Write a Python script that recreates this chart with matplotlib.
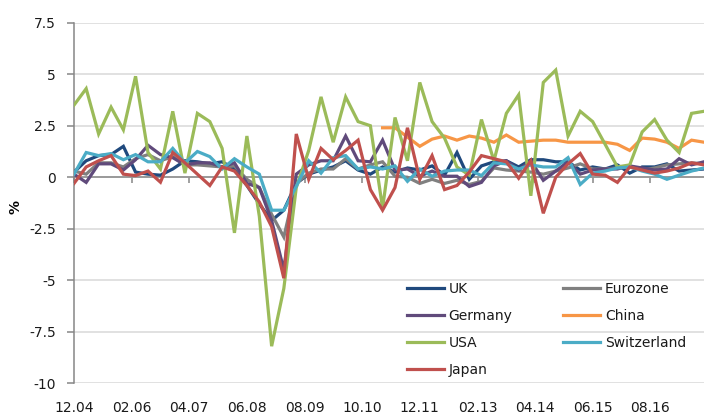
import matplotlib
matplotlib.use("Agg")
import matplotlib.pyplot as plt
import matplotlib.dates as mdates
import numpy as np
import pandas as pd

# ---------------- data ----------------
quarters = pd.date_range("2004-12-01", "2017-09-01", freq="3MS")  # Q4 2004 .. Q3 2017
tick_labels = ["12.04", "02.06", "04.07", "06.08", "08.09", "10.10",
               "12.11", "02.13", "04.14", "06.15", "08.16"]
y_ticks = [7.5, 5, 2.5, 0, -2.5, -5, -7.5, -10]

uk = [0.25, 0.8, 1.05, 1.1, 1.5, 0.25, 0.15, 0.1, 0.4, 0.8, 0.75, 0.65, 0.75,
      0.4, -0.4, -1.3, -2.1, -1.6, -0.3, 0.15, 0.35, 0.5, 0.8, 0.35, 0.15, 0.5,
      0.25, 0.45, 0.35, 0.55, 0.1, 1.2, -0.1, 0.55, 0.75, 0.8, 0.5, 0.85, 0.85,
      0.75, 0.75, 0.35, 0.5, 0.4, 0.6, 0.2, 0.5, 0.5, 0.65, 0.3, 0.35, 0.4]
eurozone = [0.3, 0.15, 0.7, 0.7, 0.5, 0.9, 1.1, 0.8, 1.0, 0.6, 0.6, 0.55, 0.5,
            0.55, -0.1, -0.5, -1.8, -2.9, -0.3, 0.2, 0.4, 0.4, 0.9, 0.4, 0.6,
            0.75, 0.05, 0.0, -0.3, -0.1, -0.3, -0.15, -0.35, -0.2, 0.45, 0.35,
            0.3, 0.25, 0.15, 0.3, 0.45, 0.65, 0.4, 0.4, 0.45, 0.55, 0.35, 0.45,
            0.6, 0.65, 0.7, 0.65]
germany = [0.15, -0.25, 0.65, 0.65, 0.35, 0.85, 1.55, 1.1, 0.95, 0.6, 0.7, 0.7,
           0.5, 0.7, -0.3, -0.5, -2.1, -4.5, 0.15, 0.6, 0.8, 0.8, 2.0, 0.8,
           0.75, 1.8, 0.35, 0.4, 0.05, 0.3, 0.05, 0.05, -0.45, -0.25, 0.55,
           0.8, 0.35, 0.8, -0.15, 0.3, 0.75, 0.15, 0.35, 0.4, 0.4, 0.55, 0.45,
           0.35, 0.4, 0.9, 0.6, 0.75]
china = [np.nan] * 25 + [2.4, 2.4, 1.95, 1.5, 1.85, 2.0, 1.8, 2.0, 1.9, 1.7,
                         2.05, 1.7, 1.75, 1.8, 1.8, 1.7, 1.7, 1.7, 1.7, 1.6,
                         1.3, 1.9, 1.85, 1.7, 1.4, 1.8, 1.7]
usa = [3.5, 4.3, 2.1, 3.4, 2.3, 4.9, 1.2, 0.4, 3.2, 0.2, 3.1, 2.7, 1.4, -2.7,
       2.0, -1.9, -8.2, -5.4, -0.5, 1.3, 3.9, 1.7, 3.9, 2.7, 2.5, -1.5, 2.9,
       0.8, 4.6, 2.7, 1.9, 0.5, 0.1, 2.8, 0.8, 3.1, 4.0, -0.9, 4.6, 5.2, 2.0,
       3.2, 2.7, 1.6, 0.5, 0.6, 2.2, 2.8, 1.8, 1.2, 3.1, 3.2]
switzerland = [0.15, 1.2, 1.05, 1.15, 0.85, 1.1, 0.75, 0.75, 1.4, 0.7, 1.25,
               1.0, 0.4, 0.9, 0.5, 0.15, -1.6, -1.6, -0.45, 0.8, 0.2, 0.95,
               1.05, 0.4, 0.5, 0.4, 0.55, -0.2, 0.4, 0.05, 0.3, 0.35, 0.35,
               0.08, 0.7, 0.65, 0.4, 0.6, 0.5, 0.5, 0.95, -0.35, 0.2, 0.3,
               0.45, 0.5, 0.3, 0.15, -0.1, 0.1, 0.3, 0.45]
japan = [-0.3, 0.5, 0.8, 1.05, 0.15, 0.08, 0.3, -0.24, 1.2, 0.7, 0.15, -0.4,
         0.5, 0.3, -0.4, -1.2, -2.4, -4.9, 2.1, -0.1, 1.4, 0.85, 1.3, 1.8,
         -0.6, -1.6, -0.5, 2.4, -0.1, 1.05, -0.6, -0.4, 0.25, 1.05, 0.9, 0.75,
         -0.05, 0.8, -1.75, 0.0, 0.65, 1.15, 0.15, 0.1, -0.25, 0.5, 0.35, 0.2,
         0.3, 0.45, 0.7, 0.6]

series = [
    ("UK", uk, "#1F497D"),
    ("Eurozone", eurozone, "#808080"),
    ("Germany", germany, "#604A7B"),
    ("China", china, "#F79646"),
    ("USA", usa, "#9BBB59"),
    ("Switzerland", switzerland, "#4BACC6"),
    ("Japan", japan, "#C0504D"),
]

# ---------------- figure ----------------
plt.rcParams["font.family"] = ["DejaVu Sans"]
fig = plt.figure(figsize=(7.04, 4.15), dpi=100)
ax = fig.add_axes([74 / 704, 31.7 / 415, (704 - 74) / 704, (383.3 - 22.7) / 415])

x = mdates.date2num(quarters.to_pydatetime())
tick_x = mdates.date2num(pd.date_range("2004-12-01", periods=len(tick_labels), freq="14MS").to_pydatetime())

lines = {}
for name, vals, col in series:
    ln, = ax.plot(x, vals, color=col, lw=2.3, label=name, solid_joinstyle="miter", zorder=3)
    lines[name] = ln

ax.set_xlim(x[0], x[-1])
ax.set_ylim(-10, 7.5)
ax.set_yticks(y_ticks)
ax.yaxis.set_major_formatter(matplotlib.ticker.FuncFormatter(lambda v, p: f"{v:g}"))
ax.set_axisbelow(True)
ax.yaxis.grid(True, color="#D9D9D9", lw=1.1)

for s in ["top", "right"]:
    ax.spines[s].set_visible(False)
ax.spines["left"].set_color("#868686")
ax.spines["left"].set_linewidth(1.1)
ax.spines["bottom"].set_position(("data", 0))
ax.spines["bottom"].set_color("#868686")
ax.spines["bottom"].set_linewidth(1.1)
ax.spines["bottom"].set_zorder(2)

ax.tick_params(axis="y", direction="out", length=5, color="#868686", width=1.1,
               pad=8, labelsize=10, labelcolor="#1a1a1a")
ax.set_xticks(tick_x)
ax.tick_params(axis="x", direction="out", length=4, color="#868686", width=1.1,
               labelbottom=False)

sec = ax.secondary_xaxis(0.0)
sec.set_xticks(tick_x, labels=tick_labels)
sec.spines["bottom"].set_visible(False)
sec.tick_params(axis="x", length=0, pad=13, labelsize=10, labelcolor="#1a1a1a")

ax.set_ylabel("%", fontsize=10, fontweight="bold")
ax.yaxis.set_label_coords((23 - 74) / 630, 0.49)

order = ["UK", "Germany", "USA", "Japan", "Eurozone", "China", "Switzerland"]
leg = ax.legend([lines[n] for n in order], order, ncol=2, frameon=False,
                loc="upper left", bbox_to_anchor=(407 / 704, 1 - 282 / 415),
                bbox_transform=fig.transFigure, borderpad=0, borderaxespad=0,
                handlelength=2.65, handletextpad=0.35, columnspacing=3.65,
                labelspacing=0.93, fontsize=10)
for t in leg.get_texts():
    t.set_color("#1a1a1a")

fig.savefig("out.png", dpi=100)
